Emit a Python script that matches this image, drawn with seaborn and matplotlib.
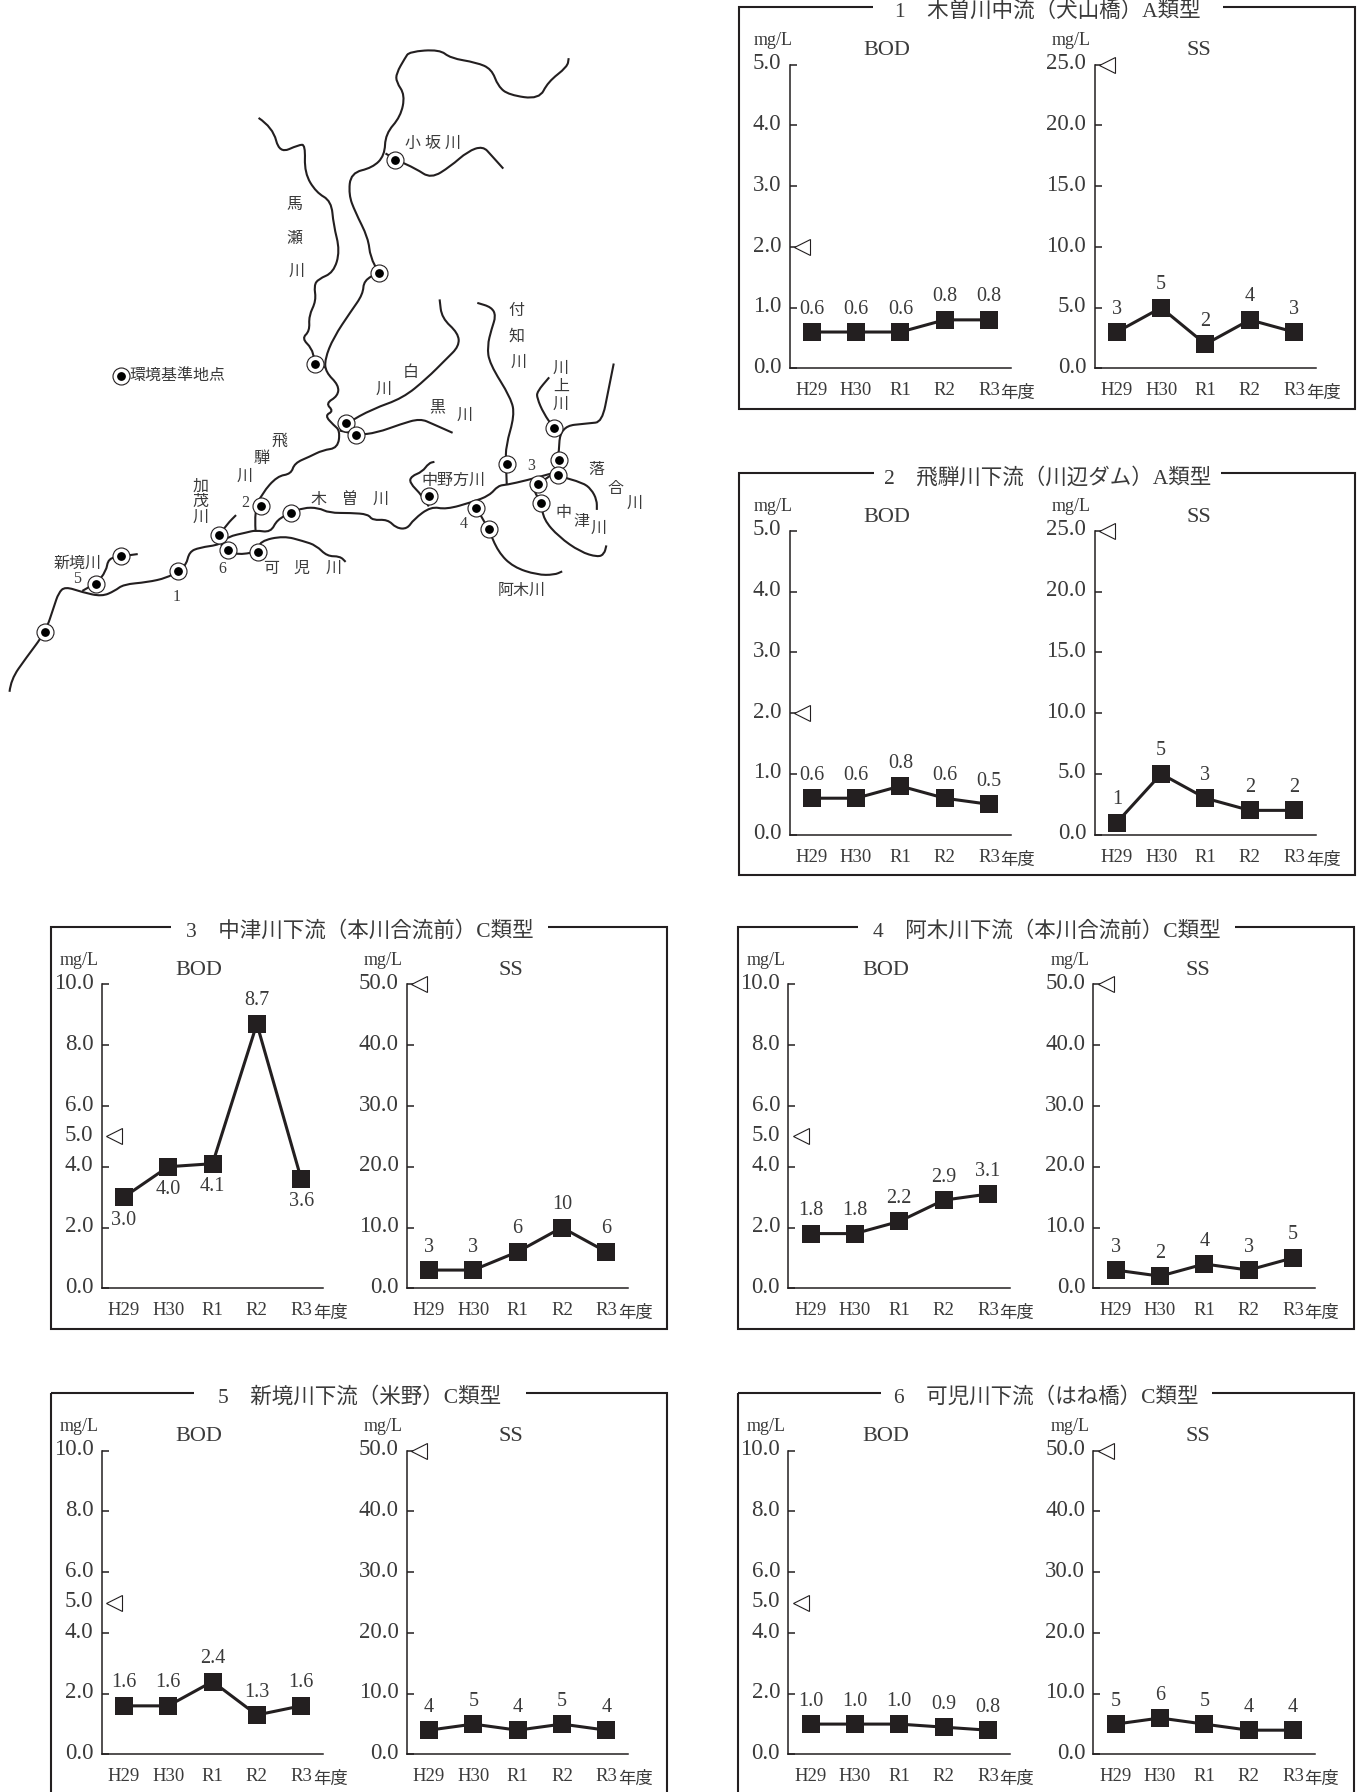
# Water quality trends (BOD / SS) with river map
import matplotlib
matplotlib.use('Agg')
import matplotlib.pyplot as plt
from matplotlib.patches import PathPatch, Rectangle
from matplotlib.path import Path
from matplotlib.transforms import ScaledTranslation
import seaborn as sns

sns.set_theme(style='white')
plt.rcParams['font.family'] = ['Liberation Serif', 'Noto Sans CJK JP']
plt.rcParams['axes.unicode_minus'] = False

W, H = 1362, 1792
SHOWN = 1362 / 1192
INK = '#231f20'
TEXT = '#3a3a3a'

years = ['H29', 'H30', 'R1', 'R2', 'R3']

titles = [
    '1\u3000木曽川中流（犬山橋）A類型',
    '2\u3000飛騨川下流（川辺ダム）A類型',
    '3\u3000中津川下流（本川合流前）C類型',
    '4\u3000阿木川下流（本川合流前）C類型',
    '5\u3000新境川下流（米野）C類型',
    '6\u3000可児川下流（はね橋）C類型',
]
bod_values = [
    [0.6, 0.6, 0.6, 0.8, 0.8],
    [0.6, 0.6, 0.8, 0.6, 0.5],
    [3.0, 4.0, 4.1, 8.7, 3.6],
    [1.8, 1.8, 2.2, 2.9, 3.1],
    [1.6, 1.6, 2.4, 1.3, 1.6],
    [1.0, 1.0, 1.0, 0.9, 0.8],
]
ss_values = [
    [3, 5, 2, 4, 3],
    [1, 5, 3, 2, 2],
    [3, 3, 6, 10, 6],
    [3, 2, 4, 3, 5],
    [4, 5, 4, 5, 4],
    [5, 6, 5, 4, 4],
]
bod_limits = [2.0, 2.0, 5.0, 5.0, 5.0, 5.0]
ss_limits = [25.0, 25.0, 50.0, 50.0, 50.0, 50.0]
bod_max = [5.0, 5.0, 10.0, 10.0, 10.0, 10.0]
ss_max = [25.0, 25.0, 50.0, 50.0, 50.0, 50.0]
bod_ticks_a = [0.0, 1.0, 2.0, 3.0, 4.0, 5.0]
bod_ticks_c = [0.0, 2.0, 4.0, 5.0, 6.0, 8.0, 10.0]
ss_ticks_a = [0.0, 5.0, 10.0, 15.0, 20.0, 25.0]
ss_ticks_c = [0.0, 10.0, 20.0, 30.0, 40.0, 50.0]

# frame left / top in the shrunk reference, half-width of the title gap
frame_left = [647, 647, 45, 646, 45, 646]
frame_top = [6, 414, 811, 811, 1219, 1219]
title_gap = [153, 152, 165, 165, 145, 145]

# river map
kiso = [(22, 1528), (25, 1500), (60, 1450), (105, 1390), (125, 1330), (135, 1300), (150, 1285),
        (190, 1298), (235, 1308), (265, 1295), (285, 1280), (340, 1275), (385, 1265), (410, 1250),
        (430, 1235), (437, 1205), (460, 1195), (510, 1188), (525, 1170), (570, 1160), (590, 1155),
        (625, 1160), (640, 1130), (673, 1115), (700, 1103), (735, 1103), (760, 1115), (810, 1115),
        (850, 1118), (860, 1132), (895, 1130), (915, 1150), (940, 1152), (955, 1130), (995, 1100),
        (1030, 1107), (1090, 1090), (1130, 1075), (1150, 1052), (1170, 1050), (1215, 1040), (1280, 1022)]
hida = [(590, 1155), (587, 1110), (605, 1070), (640, 1030), (672, 1025), (680, 1000), (715, 985),
        (745, 970), (780, 965), (785, 925), (770, 912), (750, 890), (770, 880), (752, 862), (780, 845),
        (782, 820), (752, 790), (750, 760), (770, 710), (810, 650), (838, 610), (840, 578), (875, 560),
        (855, 525), (850, 480), (820, 420), (805, 380), (810, 330), (860, 318), (888, 290), (890, 240),
        (925, 200), (935, 150), (915, 120), (915, 100), (935, 65), (945, 50), (1015, 45), (1040, 65),
        (1100, 75), (1135, 90), (1150, 130), (1175, 150), (1245, 160), (1265, 120), (1310, 85), (1313, 65)]
maze = [(597, 203), (630, 225), (645, 285), (690, 265), (705, 265), (703, 330), (730, 375), (765, 395),
        (770, 450), (785, 510), (770, 560), (735, 575), (725, 590), (730, 625), (713, 660), (715, 695),
        (697, 712), (720, 735), (725, 760), (750, 780)]
kosaka = [(890, 285), (915, 300), (960, 320), (995, 343), (1040, 315), (1080, 280), (1115, 268),
          (1135, 290), (1162, 320)]
shira = [(785, 925), (800, 908), (860, 875), (930, 850), (985, 805), (1030, 760), (1060, 730),
         (1058, 700), (1020, 665), (1015, 622)]
kuro = [(785, 925), (825, 935), (870, 930), (925, 910), (970, 897), (1000, 910), (1045, 930)]
tsukechi = [(1170, 1050), (1168, 1000), (1168, 960), (1188, 890), (1180, 850), (1130, 770), (1125, 730),
            (1135, 690), (1145, 660), (1135, 640), (1102, 630)]
kawakami = [(1280, 1022), (1290, 990), (1293, 915), (1360, 908), (1390, 905), (1405, 830), (1417, 770)]
kawakami2 = [(1293, 915), (1278, 918), (1255, 885), (1240, 850), (1240, 835), (1268, 802)]
ochiai = [(1280, 1022), (1290, 1030), (1345, 1045), (1365, 1060), (1378, 1085), (1378, 1108)]
nakatsu = [(1280, 1022), (1243, 1048), (1230, 1060), (1250, 1092), (1255, 1130), (1290, 1170),
           (1340, 1205), (1380, 1217), (1395, 1210), (1400, 1190)]
aki = [(1090, 1090), (1100, 1103), (1115, 1130), (1128, 1152), (1150, 1205), (1185, 1240), (1240, 1258),
       (1280, 1258), (1298, 1250)]
kani = [(510, 1188), (528, 1200), (545, 1212), (595, 1205), (600, 1180), (655, 1168), (700, 1180),
        (730, 1190), (755, 1215), (785, 1215), (798, 1228)]
kamo = [(505, 1167), (525, 1140), (545, 1120)]
nakanogata = [(990, 1100), (975, 1075), (945, 1045), (950, 1030), (975, 1020), (990, 1000), (1003, 997)]
shinsakai = [(190, 1295), (222, 1278), (245, 1250), (250, 1220), (280, 1215), (318, 1210)]
rivers = [kiso, hida, maze, kosaka, shira, kuro, tsukechi, kawakami, kawakami2, ochiai, nakatsu, aki,
          kani, kamo, nakanogata, shinsakai]

stations = [(912, 300), (876, 560), (727, 770), (800, 908), (823, 935), (1170, 1002), (1278, 918),
            (1290, 992), (1288, 1028), (1243, 1048), (1250, 1092), (1100, 1103), (1128, 1152), (990, 1077),
            (673, 1115), (603, 1100), (505, 1167), (527, 1200), (595, 1205), (410, 1250), (280, 1215),
            (222, 1278), (105, 1390), (280, 798)]

map_labels = [
    ('小 坂 川', 1000, 262), ('馬', 680, 405), ('瀬', 680, 482), ('川', 685, 558),
    ('白', 948, 792), ('川', 885, 832), ('黒', 1010, 872), ('川', 1073, 890),
    ('付', 1193, 648), ('知', 1193, 708), ('川', 1197, 768),
    ('川', 1295, 782), ('上', 1295, 825), ('川', 1295, 865),
    ('落', 1378, 1015), ('合', 1422, 1060), ('川', 1465, 1095),
    ('中', 1300, 1115), ('津', 1342, 1135), ('川', 1382, 1152),
    ('中野方川', 1048, 1042), ('木', 735, 1085), ('曽', 808, 1085), ('川', 878, 1085),
    ('飛', 645, 950), ('騨', 603, 990), ('川', 565, 1032),
    ('加', 463, 1055), ('茂', 463, 1090), ('川', 463, 1127),
    ('新境川', 178, 1232), ('5', 178, 1268), ('6', 513, 1245), ('1', 408, 1308),
    ('2', 566, 1093), ('3', 1227, 1007), ('4', 1070, 1140),
    ('可', 625, 1245), ('児', 697, 1245), ('川', 770, 1245),
    ('阿木川', 1205, 1295), ('環境基準地点', 410, 798),
]


def px_axes(fig, left, top, width, height):
    """Axes placed by pixel box, y measured from the top"""
    return fig.add_axes([left / W, 1 - (top + height) / H, width / W, height / H])


def river_path(points):
    """Curved path with the traced points as quadratic control points"""
    verts = [points[0]]
    codes = [Path.MOVETO]
    for (x0, y0), (x1, y1) in zip(points[1:-1], points[2:]):
        verts += [(x0, y0), ((x0 + x1) / 2, (y0 + y1) / 2)]
        codes += [Path.CURVE3, Path.CURVE3]
    verts.append(points[-1])
    codes.append(Path.LINETO)
    return Path(verts, codes)


def draw_map(fig):
    """River map in the upper left"""
    ax = px_axes(fig, 0, 30, 680, 680)
    ax.set_xlim(0, 1570)
    ax.set_ylim(1570, 0)
    ax.axis('off')
    for river in rivers:
        ax.add_patch(PathPatch(river_path(river), fill=False, edgecolor=INK, lw=1.5))
    xs, ys = zip(*stations)
    ax.scatter(xs, ys, s=150, facecolor='white', edgecolor=INK, linewidth=0.8, zorder=3)
    ax.scatter(xs, ys, s=28, color='black', zorder=4)
    for label, x, y in map_labels:
        ax.text(x, y, label, fontsize=11.5, color=TEXT, ha='center', va='center')


def draw_trend(fig, left, top, values, limit, ymax, ticks, name, number_fmt, unit_x, below=()):
    """One BOD or SS line chart"""
    ax = px_axes(fig, left * SHOWN, top * SHOWN, 194 * SHOWN, 266 * SHOWN)
    ax.patch.set_alpha(0)
    sns.lineplot(x=years, y=values, ax=ax, color=INK, linewidth=2.2, marker='s', markersize=12.5,
                 markeredgewidth=0, errorbar=None, sort=False)
    ax.set_xlim(-0.5, 4.5)
    ax.set_ylim(0, ymax)
    ax.set_xlabel('')
    ax.set_ylabel('')
    sns.despine(ax=ax)
    for side in ['left', 'bottom']:
        ax.spines[side].set_linewidth(1.1)
        ax.spines[side].set_color(INK)

    ax.set_xticks(range(len(years)))
    ax.set_xticklabels(years)
    ax.set_xticks([i - 0.5 for i in range(len(years) + 1)], minor=True)
    ax.tick_params(axis='x', which='major', length=0, pad=10, labelsize=13.5, labelcolor=TEXT)
    ax.tick_params(axis='x', which='minor', length=8, width=1.1, direction='in', color=INK)
    ax.set_yticks(ticks)
    ax.set_yticklabels([f'{t:.1f}' for t in ticks])
    ax.tick_params(axis='y', length=5, width=1.1, direction='in', color=INK, pad=6, labelsize=16.5,
                   labelcolor=TEXT, left=True)
    # value labels sit a little above their ticks in the reference
    lift = ScaledTranslation(0, 3.4 / 100, fig.dpi_scale_trans)
    for tick, t in zip(ax.yaxis.get_major_ticks(), ticks):
        tick.label1.set_transform(tick.label1.get_transform() + lift)
        if t == 5.0 and ymax == 10.0:
            tick.tick1line.set_visible(False)

    # environmental standard marker
    ax.plot([0.055], [limit], transform=ax.get_yaxis_transform(), marker='<', markersize=11,
            markerfacecolor='white', markeredgecolor=INK, markeredgewidth=0.8, clip_on=False,
            linestyle='none')

    for i, v in enumerate(values):
        offset = -16.5 if i in below else 16.5
        ax.annotate(number_fmt.format(v), (i, v), xytext=(0, offset), textcoords='offset points',
                    ha='center', va='center', fontsize=14.5, color=TEXT)

    ax.text(4.26, -0.085, '年度', transform=ax.get_xaxis_transform(), fontsize=12.5, color=TEXT,
            ha='left', va='center')
    ax.text(unit_x, 1.08, 'mg/L', transform=ax.transAxes, fontsize=13, color=TEXT, ha='left', va='center')
    ax.text(name[1], 1.045, name[0], transform=ax.transAxes, fontsize=16, color=TEXT, ha='center', va='center')


def main():
    fig = plt.figure(figsize=(W / 100, H / 100), dpi=100, facecolor='white')
    overlay = fig.add_axes([0, 0, 1, 1])
    overlay.set_xlim(0, W)
    overlay.set_ylim(H, 0)
    overlay.axis('off')

    draw_map(fig)

    for i, title in enumerate(titles):
        left, top = frame_left[i], frame_top[i]
        x0, y0 = left * SHOWN, top * SHOWN
        overlay.add_patch(Rectangle((x0, y0), 539 * SHOWN, 352 * SHOWN, fill=False, edgecolor=INK, lw=1.5))
        cx = x0 + 270 * SHOWN
        gap = title_gap[i] * SHOWN
        overlay.plot([cx - gap, cx + gap], [y0, y0], color='white', lw=4, solid_capstyle='butt', zorder=2)
        overlay.text(cx, y0 + 5, title, fontsize=15.5, color=TEXT, ha='center', va='center', zorder=3)

        axis_top = top + 50.5
        if bod_max[i] == 5.0:
            b_ticks, s_ticks = bod_ticks_a, ss_ticks_a
            bod_unit_x = -0.16
        else:
            b_ticks, s_ticks = bod_ticks_c, ss_ticks_c
            bod_unit_x = -0.19
        below = (0, 1, 2, 4) if i == 2 else ()
        draw_trend(fig, left + 44, axis_top, bod_values[i], bod_limits[i], bod_max[i], b_ticks,
                   ('BOD', 0.44), '{:.1f}', bod_unit_x, below)
        draw_trend(fig, left + 311, axis_top, ss_values[i], ss_limits[i], ss_max[i], s_ticks,
                   ('SS', 0.47), '{:d}', -0.195)

    fig.savefig('out.png', dpi=100)
    plt.close(fig)


if __name__ == "__main__":
    main()
